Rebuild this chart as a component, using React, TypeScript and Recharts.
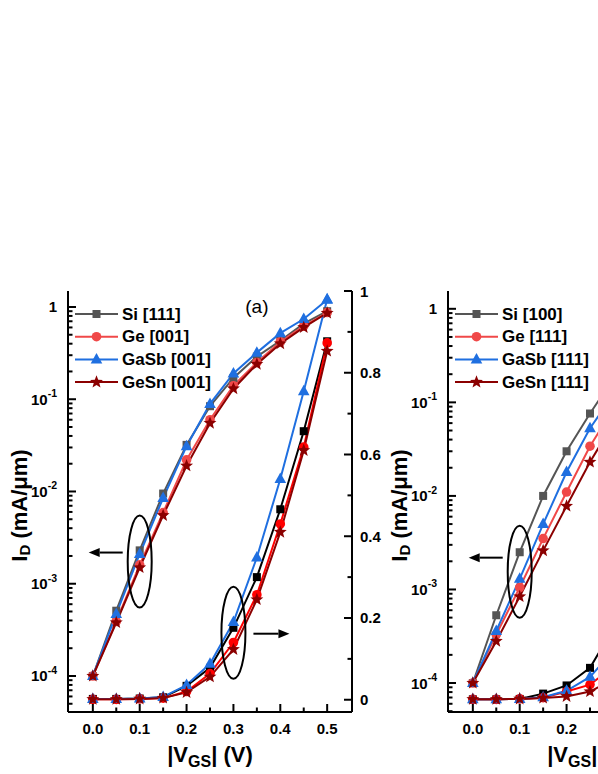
import { ComposedChart, Legend, Line, ReferenceDot, XAxis, YAxis } from 'recharts'

const FONT = '"Liberation Sans", Arial, Helvetica, sans-serif'

// gate voltage |VGS| (V)
const vgs = [0, 0.05, 0.1, 0.15, 0.2, 0.25, 0.3, 0.35, 0.4, 0.45, 0.5]

// panel (a): log-scale currents (mA/um)
const siLogA = [1e-4, 5.1e-4, 2.3e-3, 9.5e-3, 0.032, 0.084, 0.17, 0.29, 0.43, 0.66, 0.9]
const geLogA = [1e-4, 3.9e-4, 1.6e-3, 5.9e-3, 0.022, 0.06, 0.14, 0.25, 0.42, 0.62, 0.87]
const gasbLogA = [1e-4, 4.7e-4, 2.1e-3, 8.5e-3, 0.031, 0.089, 0.19, 0.32, 0.52, 0.74, 1.2]
const gesnLogA = [1e-4, 3.8e-4, 1.5e-3, 5.5e-3, 0.019, 0.055, 0.13, 0.24, 0.4, 0.6, 0.86]
// panel (a): linear-scale currents (mA/um)
const siLinA = [0.002, 0.002, 0.003, 0.006, 0.034, 0.078, 0.176, 0.3, 0.466, 0.657, 0.877]
const geLinA = [0.001, 0.001, 0.002, 0.004, 0.02, 0.064, 0.14, 0.257, 0.43, 0.618, 0.873]
const gasbLinA = [0.002, 0.002, 0.003, 0.007, 0.036, 0.088, 0.19, 0.348, 0.54, 0.755, 0.98]
const gesnLinA = [0.001, 0.001, 0.002, 0.004, 0.018, 0.056, 0.123, 0.245, 0.41, 0.61, 0.853]

// panel (b): right half is cut off in the figure, later points are estimates
const siLogB = [1e-4, 5.3e-4, 2.5e-3, 0.01, 0.03, 0.076, 0.18, 0.3, 0.45, 0.62, 0.82]
const geLogB = [1e-4, 3.3e-4, 1.05e-3, 3.5e-3, 0.011, 0.034, 0.085, 0.17, 0.3, 0.47, 0.68]
const gasbLogB = [1e-4, 3.6e-4, 1.3e-3, 5e-3, 0.018, 0.053, 0.12, 0.22, 0.36, 0.55, 0.78]
const gesnLogB = [1e-4, 2.8e-4, 8.4e-4, 2.6e-3, 7.8e-3, 0.023, 0.06, 0.13, 0.24, 0.4, 0.6]
const siLinB = [0.001, 0.001, 0.002, 0.015, 0.035, 0.078, 0.175, 0.31, 0.48, 0.68, 0.88]
const geLinB = [0.001, 0.001, 0.002, 0.005, 0.02, 0.037, 0.08, 0.17, 0.3, 0.47, 0.66]
const gasbLinB = [0.001, 0.001, 0.002, 0.006, 0.022, 0.056, 0.12, 0.23, 0.38, 0.56, 0.76]
const gesnLinB = [0.001, 0.001, 0.002, 0.004, 0.008, 0.02, 0.05, 0.12, 0.23, 0.38, 0.56]

const namesA = ['Si [111]', 'Ge [001]', 'GaSb [001]', 'GeSn [001]']
const namesB = ['Si [100]', 'Ge [111]', 'GaSb [111]', 'GeSn [111]']

// axis ticks
const xMajor = [0, 0.1, 0.2, 0.3, 0.4, 0.5]
const xMinor = [0.05, 0.15, 0.25, 0.35, 0.45]
const logMajor = [1e-4, 1e-3, 1e-2, 1e-1, 1]
const logMinor = [
  5e-5, 6e-5, 7e-5, 8e-5, 9e-5,
  2e-4, 3e-4, 4e-4, 5e-4, 6e-4, 7e-4, 8e-4, 9e-4,
  2e-3, 3e-3, 4e-3, 5e-3, 6e-3, 7e-3, 8e-3, 9e-3,
  2e-2, 3e-2, 4e-2, 5e-2, 6e-2, 7e-2, 8e-2, 9e-2,
  0.2, 0.3, 0.4, 0.5, 0.6, 0.7, 0.8, 0.9,
]
const linMajor = [0, 0.2, 0.4, 0.6, 0.8, 1]
const linMinor = [0.1, 0.3, 0.5, 0.7, 0.9]

const series = [
  { key: 'si', kind: 'square', logColor: '#555555', linColor: '#000000' },
  { key: 'ge', kind: 'circle', logColor: '#f04848', linColor: '#ff0000' },
  { key: 'gasb', kind: 'triangle', logColor: '#1f6fe0', linColor: '#1f6fe0' },
  { key: 'gesn', kind: 'star', logColor: '#8b0000', linColor: '#8b0000' },
]

const rowsA = vgs.map((v, i) => ({
  vgs: v,
  siLog: siLogA[i], geLog: geLogA[i], gasbLog: gasbLogA[i], gesnLog: gesnLogA[i],
  siLin: siLinA[i], geLin: geLinA[i], gasbLin: gasbLinA[i], gesnLin: gesnLinA[i],
}))
const rowsB = vgs.map((v, i) => ({
  vgs: v,
  siLog: siLogB[i], geLog: geLogB[i], gasbLog: gasbLogB[i], gesnLog: gesnLogB[i],
  siLin: siLinB[i], geLin: geLinB[i], gasbLin: gasbLinB[i], gesnLin: gesnLinB[i],
}))

function Marker({ kind, cx, cy, color }: any) {
  if (cx == null || cy == null) return null
  if (kind === 'square') return <rect x={cx - 4} y={cy - 4} width={8} height={8} fill={color} />
  if (kind === 'circle') return <circle cx={cx} cy={cy} r={4.8} fill={color} />
  if (kind === 'triangle')
    return <polygon points={`${cx},${cy - 6.5} ${cx - 5.8},${cy + 4} ${cx + 5.8},${cy + 4}`} fill={color} />
  const pts: string[] = []
  for (let k = 0; k < 10; k++) {
    const r = k % 2 === 0 ? 6.8 : 2.9
    const a = -Math.PI / 2 + (k * Math.PI) / 5
    pts.push(`${cx + r * Math.cos(a)},${cy + r * Math.sin(a)}`)
  }
  return <polygon points={pts.join(' ')} fill={color} />
}

const dotOf = (kind: string, color: string) => (p: any) =>
  <Marker key={`${p.dataKey}-${p.index}`} kind={kind} cx={p.cx} cy={p.cy} color={color} />

function LogTick({ x, y, payload }: any) {
  const v = payload.value
  const major = logMajor.includes(v)
  const ax = x + 11
  const exp = Math.round(Math.log10(v))
  return (
    <g>
      <line x1={ax} x2={ax + (major ? 8 : 4.5)} y1={y} y2={y} stroke="#000" strokeWidth={2} />
      {major && (
        <text x={x} y={y} textAnchor="end" dominantBaseline="central" fontFamily={FONT} fontWeight="bold" fontSize={15} fill="#000">
          {exp === 0 ? '1' : (
            <>
              10<tspan dy={-6} fontSize={10.5}>{exp}</tspan>
            </>
          )}
        </text>
      )}
    </g>
  )
}

function LinTick({ x, y, payload }: any) {
  const v = payload.value
  const major = linMajor.includes(v)
  const ax = x - 8
  const label = v === 0 ? '0' : v === 1 ? '1' : v.toFixed(1)
  return (
    <g>
      <line x1={ax} x2={ax - (major ? 8 : 4.5)} y1={y} y2={y} stroke="#000" strokeWidth={2} />
      {major && (
        <text x={x} y={y} textAnchor="start" dominantBaseline="central" fontFamily={FONT} fontWeight="bold" fontSize={15} fill="#000">
          {label}
        </text>
      )}
    </g>
  )
}

function XTick({ x, y, payload }: any) {
  const v = payload.value
  const major = xMajor.includes(v)
  const ay = y - 11
  return (
    <g>
      <line x1={x} x2={x} y1={ay} y2={ay - (major ? 8 : 4.5)} stroke="#000" strokeWidth={2} />
      {major && (
        <text x={x} y={y} dy="0.71em" textAnchor="middle" fontFamily={FONT} fontWeight="bold" fontSize={15} fill="#000">
          {v.toFixed(1)}
        </text>
      )}
    </g>
  )
}

function YTitle({ viewBox }: any) {
  const x = viewBox.x - 1
  const y = viewBox.y + viewBox.height / 2 + 4
  return (
    <text x={x} y={y} transform={`rotate(-90, ${x}, ${y})`} textAnchor="middle" dominantBaseline="central" fontFamily={FONT} fontWeight="bold" fontSize={22} fill="#000">
      I<tspan fontSize={15} dy={5}>D</tspan><tspan dy={-5}> (mA/μm)</tspan>
    </text>
  )
}

function XTitle({ viewBox }: any) {
  const x = viewBox.x + viewBox.width / 2
  const y = viewBox.y + viewBox.height
  return (
    <text x={x} y={y} textAnchor="middle" fontFamily={FONT} fontWeight="bold" fontSize={22} fill="#000">
      |V<tspan fontSize={16} dy={5}>GS</tspan><tspan dy={-5}>| (V)</tspan>
    </text>
  )
}

function Arrow({ x1, x2, y }: any) {
  const dir = x2 > x1 ? 1 : -1
  const tip = x2
  const base = x2 - dir * 11
  return (
    <g>
      <line x1={x1} x2={base} y1={y} y2={y} stroke="#000" strokeWidth={2} />
      <polygon points={`${tip},${y} ${base},${y - 4.5} ${base},${y + 4.5}`} fill="#000" />
    </g>
  )
}

const ringLeft = (dy: number) => (p: any) => (
  <g>
    <ellipse cx={p.cx} cy={p.cy} rx={12} ry={46} fill="none" stroke="#000" strokeWidth={2} />
    <Arrow x1={p.cx - 17} x2={p.cx - 51} y={p.cy + dy} />
  </g>
)

const ringRight = (p: any) => (
  <g>
    <ellipse cx={p.cx} cy={p.cy} rx={12} ry={46} fill="none" stroke="#000" strokeWidth={2} />
    <Arrow x1={p.cx + 20} x2={p.cx + 56} y={p.cy + 1} />
  </g>
)

function LegendBox({ payload }: any) {
  const order = series.map((s) => `${s.key}Log`)
  const items = (payload || [])
    .filter((e: any) => e.type !== 'none' && order.includes(e.dataKey))
    .sort((a: any, b: any) => order.indexOf(a.dataKey) - order.indexOf(b.dataKey))
  return (
    <svg width={170} height={92} style={{ display: 'block' }}>
      {items.map((e: any, i: number) => {
        const s = series.find((q) => `${q.key}Log` === e.dataKey)
        const cy = 12 + i * 22.7
        return (
          <g key={e.value}>
            <line x1={3} x2={46} y1={cy} y2={cy} stroke={e.color} strokeWidth={2} />
            <Marker kind={s?.kind} cx={24.5} cy={cy} color={e.color} />
            <text x={50} y={cy} dominantBaseline="central" fontFamily={FONT} fontWeight="bold" fontSize={17} fill="#000">
              {e.value}
            </text>
          </g>
        )
      })}
    </svg>
  )
}

function Panel({ rows, names, logDomain, ring, tag }: any) {
  return (
    <ComposedChart width={400} height={774} data={rows} margin={{ top: 291, right: 8, bottom: 12, left: 20 }}>
      <XAxis
        dataKey="vgs"
        type="number"
        domain={[-0.053, 0.553]}
        ticks={[...xMajor, ...xMinor].sort((a, b) => a - b)}
        interval={0}
        allowDataOverflow
        height={50}
        tickSize={0}
        tickMargin={11}
        tickLine={false}
        tick={<XTick />}
        axisLine={{ stroke: '#000', strokeWidth: 2 }}
        label={{ content: (p: any) => <XTitle viewBox={p.viewBox} /> }}
      />
      <XAxis
        xAxisId="top"
        orientation="top"
        dataKey="vgs"
        type="number"
        domain={[-0.053, 0.553]}
        height={0}
        tick={false}
        tickLine={false}
        axisLine={{ stroke: '#000', strokeWidth: 2 }}
      />
      <YAxis
        yAxisId="log"
        scale="log"
        type="number"
        domain={logDomain}
        allowDataOverflow
        ticks={[...logMinor, ...logMajor].sort((a, b) => a - b)}
        interval={0}
        width={48}
        tickSize={0}
        tickMargin={11}
        tickLine={false}
        tick={<LogTick />}
        axisLine={{ stroke: '#000', strokeWidth: 2 }}
        label={{ content: (p: any) => <YTitle viewBox={p.viewBox} /> }}
      />
      <YAxis
        yAxisId="lin"
        orientation="right"
        type="number"
        domain={[-0.03, 1]}
        allowDataOverflow
        ticks={[...linMajor, ...linMinor].sort((a, b) => a - b)}
        interval={0}
        width={40}
        tickSize={0}
        tickMargin={8}
        tickLine={false}
        tick={<LinTick />}
        axisLine={{ stroke: '#000', strokeWidth: 2 }}
      />
      <Legend
        content={<LegendBox />}
        layout="horizontal"
        verticalAlign="middle"
        align="center"
        wrapperStyle={{ left: 72, top: 302, width: 170, height: 92 }}
      />
      {series.map((s, i) => (
        <Line
          key={`${s.key}Lin`}
          yAxisId="lin"
          dataKey={`${s.key}Lin`}
          name={`${names[i]} lin`}
          legendType="none"
          type="linear"
          stroke={s.linColor}
          strokeWidth={2}
          dot={dotOf(s.kind, s.linColor)}
          activeDot={false}
          isAnimationActive={false}
        />
      ))}
      {series.map((s, i) => (
        <Line
          key={`${s.key}Log`}
          yAxisId="log"
          dataKey={`${s.key}Log`}
          name={names[i]}
          type="linear"
          stroke={s.logColor}
          strokeWidth={2}
          dot={dotOf(s.kind, s.logColor)}
          activeDot={false}
          isAnimationActive={false}
        />
      ))}
      {ring === 'a' ? (
        <>
          <ReferenceDot yAxisId="log" x={0.1} y={1.74e-3} shape={ringLeft(-9)} />
          <ReferenceDot yAxisId="lin" x={0.3} y={0.164} shape={ringRight} />
        </>
      ) : (
        <ReferenceDot yAxisId="log" x={0.1} y={1.55e-3} shape={ringLeft(-14)} />
      )}
      {tag && (
        <ReferenceDot
          yAxisId="log"
          x={0.35}
          y={1}
          shape={(p: any) => (
            <text x={p.cx} y={p.cy} textAnchor="middle" dominantBaseline="central" fontFamily={FONT} fontSize={19} fill="#000">
              {tag}
            </text>
          )}
        />
      )}
    </ComposedChart>
  )
}

export default function App() {
  return (
    <div style={{ position: 'fixed', left: 0, top: 0, width: 598, height: 774, overflow: 'hidden', background: '#fff' }}>
      <div style={{ position: 'absolute', left: 0, top: 0 }}>
        <Panel rows={rowsA} names={namesA} logDomain={[4.07e-5, 1.49]} ring="a" tag="(a)" />
      </div>
      <div style={{ position: 'absolute', left: 380, top: 0 }}>
        <Panel rows={rowsB} names={namesB} logDomain={[4.9e-5, 1.55]} ring="b" />
      </div>
    </div>
  )
}
